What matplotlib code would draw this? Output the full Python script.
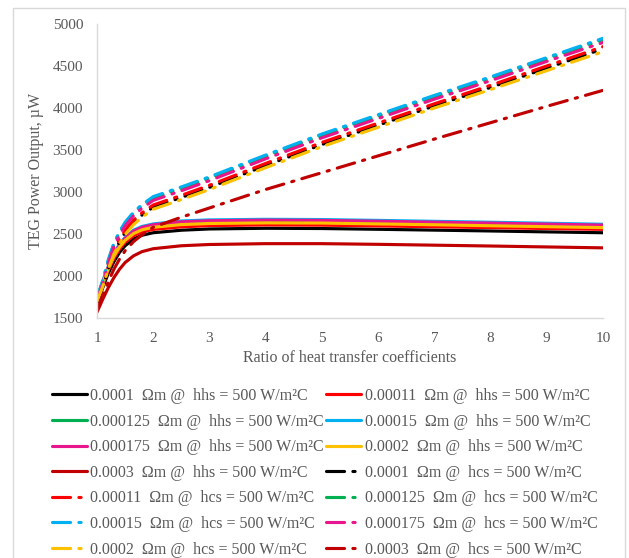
import matplotlib
matplotlib.use("Agg")
import matplotlib.pyplot as plt
from matplotlib.patches import Rectangle

plt.rcParams["font.family"] = ["Liberation Serif", "DejaVu Serif"]
plt.rcParams["lines.scale_dashes"] = False

# ratio of heat transfer coefficients
ratio = [1, 1.1, 1.2, 1.3, 1.4, 1.5, 1.65, 1.8, 2, 2.5, 3, 4, 5, 6, 7, 8, 9, 10]

resistivity = ["0.0001", "0.00011", "0.000125", "0.00015", "0.000175", "0.0002", "0.0003"]
colors = ["#000000", "#FF0000", "#00B050", "#00B0F0", "#E8168C", "#FFC000", "#C00000"]

# hhs = 500 W/m2C (solid)
hhs_power = [
    [1680, 1860, 2030, 2170, 2280, 2360, 2440, 2485, 2515, 2545, 2560, 2568, 2565, 2556, 2546, 2536, 2525, 2515],
    [1700, 1890, 2065, 2210, 2320, 2400, 2480, 2525, 2555, 2585, 2600, 2608, 2605, 2596, 2586, 2576, 2565, 2555],
    [1720, 1915, 2095, 2245, 2360, 2440, 2525, 2570, 2600, 2635, 2650, 2658, 2655, 2645, 2635, 2624, 2612, 2600],
    [1740, 1935, 2115, 2265, 2380, 2460, 2545, 2590, 2620, 2655, 2668, 2675, 2672, 2662, 2651, 2640, 2628, 2616],
    [1730, 1925, 2105, 2255, 2370, 2450, 2535, 2580, 2610, 2645, 2658, 2665, 2662, 2652, 2641, 2630, 2618, 2606],
    [1720, 1910, 2085, 2235, 2345, 2425, 2505, 2550, 2580, 2612, 2625, 2632, 2630, 2620, 2610, 2598, 2587, 2576],
    [1570, 1720, 1860, 1980, 2080, 2160, 2240, 2290, 2325, 2360, 2375, 2385, 2385, 2377, 2367, 2357, 2346, 2335],
]

# hcs = 500 W/m2C (dash-dot)
hcs_power = [
    [1680, 1860, 2085, 2275, 2410, 2518, 2637, 2725, 2820, 2935, 3055, 3315, 3565, 3795, 4025, 4245, 4475, 4705],
    [1700, 1880, 2110, 2300, 2440, 2545, 2665, 2752, 2845, 2960, 3080, 3340, 3590, 3820, 4050, 4270, 4500, 4730],
    [1735, 1930, 2180, 2380, 2520, 2628, 2747, 2836, 2930, 3045, 3165, 3425, 3675, 3905, 4135, 4355, 4585, 4815],
    [1740, 1940, 2190, 2390, 2530, 2640, 2760, 2850, 2945, 3060, 3180, 3440, 3690, 3920, 4150, 4370, 4600, 4830],
    [1720, 1905, 2150, 2350, 2490, 2598, 2717, 2806, 2900, 3015, 3135, 3395, 3645, 3875, 4105, 4325, 4555, 4780],
    [1700, 1870, 2080, 2260, 2390, 2495, 2612, 2700, 2795, 2910, 3030, 3290, 3540, 3770, 4000, 4220, 4445, 4670],
    [1600, 1760, 1930, 2080, 2200, 2300, 2410, 2490, 2580, 2700, 2810, 3030, 3230, 3430, 3630, 3825, 4020, 4210],
]

TXT = "#595959"
GRID = "#D9D9D9"
DASHDOT = (0, (13, 6, 1.6, 6))

fig = plt.figure(figsize=(6.29, 5.58), dpi=100)
# chart area border
fig.patches.append(Rectangle((13 / 629, -0.1), 612 / 629, 1.1 - 8 / 558,
                             transform=fig.transFigure, fill=False,
                             edgecolor=GRID, linewidth=1.0))

ax = fig.add_axes([97 / 629, 1 - 318 / 558, 506 / 629, 294 / 558])

handles = []
for r, c, p in zip(resistivity, colors, hhs_power):
    (ln,) = ax.plot(ratio, p, color=c, lw=2.25, solid_capstyle="round",
                    label=f"{r}  Ωm @  hhs = 500 W/m²C")
    handles.append(ln)
for r, c, p in zip(resistivity, colors, hcs_power):
    (ln,) = ax.plot(ratio, p, color=c, lw=2.25, linestyle=DASHDOT,
                    dash_capstyle="round",
                    label=f"{r}  Ωm @  hcs = 500 W/m²C")
    handles.append(ln)

ax.set_xlim(1, 10)
ax.set_ylim(1500, 5000)
ax.set_xticks(range(1, 11))
ax.set_yticks(range(1500, 5001, 500))
for s in ["top", "right"]:
    ax.spines[s].set_visible(False)
for s in ["left", "bottom"]:
    ax.spines[s].set_color(GRID)
    ax.spines[s].set_linewidth(1.0)
ax.tick_params(length=0, labelsize=11, labelcolor=TXT)
ax.tick_params(axis="y", pad=10)
ax.tick_params(axis="x", pad=10)

ax.set_xlabel("Ratio of heat transfer coefficients", fontsize=11.5, color=TXT)
ax.set_ylabel("TEG Power Output, µW", fontsize=11.5, color=TXT)
ax.xaxis.set_label_coords(0.5, -0.108)
ax.yaxis.set_label_coords(-0.105, 0.5)

# legend reads row by row, matplotlib fills column by column
order = handles[0::2] + handles[1::2]
fig.legend(order, [h.get_label() for h in order], ncol=2, frameon=False,
           loc="upper left", bbox_to_anchor=(52 / 629, 1 - 388 / 558),
           fontsize=11.5, labelcolor=TXT, handlelength=2.2, handletextpad=0.2,
           columnspacing=0.15, labelspacing=0.6, borderaxespad=0, borderpad=0)

fig.savefig("out.png", dpi=100)
